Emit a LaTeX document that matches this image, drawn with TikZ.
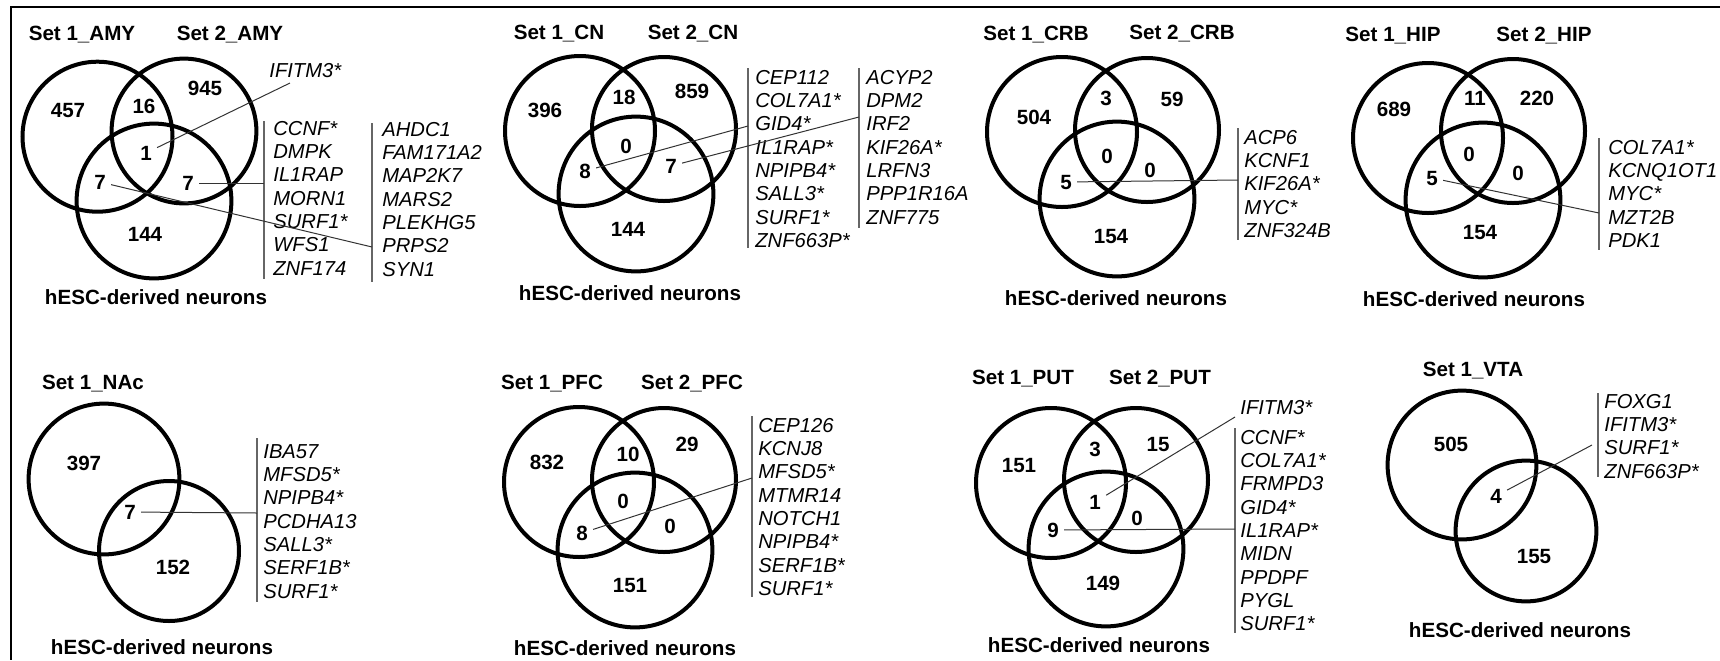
\documentclass[tikz,border=0pt]{standalone}
\usepackage{fontspec}
\setmainfont{Liberation Sans}
\newcommand\vbold{\fontsize{10.3pt}{12pt}\selectfont\bfseries}
\newcommand\vital{\fontsize{10.1pt}{12pt}\selectfont\itshape}
\tikzset{
  ring/.style={line width=2pt},
  num/.style={font=\vbold, inner sep=2.5pt, text height=7.2pt, text depth=0pt},
  lab/.style={font=\vbold, inner sep=0pt, text height=7.2pt, text depth=0pt},
  gene/.style={font=\vital, anchor=west, inner sep=0pt, text height=7.2pt, text depth=0pt},
  bar/.style={draw=black!60, line width=0.7pt},
  conn/.style={draw=black!80, line width=0.5pt},
  framel/.style={line width=1.1pt}
}
\begin{document}
\begin{tikzpicture}[x=0.5pt,y=-0.5pt]
\useasboundingbox (0,0) rectangle (1720,660);
\draw[framel] (1720,7) -- (11,7) -- (11,660);

% ===== AMY =====
\draw[ring] (97.5,136.7) circle[radius=37.5pt];
\draw[ring] (184,131) circle[radius=36.2pt];
\draw[ring] (154,201) circle[radius=38.7pt];
\node[lab] (amyS1) at (82,33) {Set 1\_AMY};
\node[lab] (amyS2) at (230,33) {Set 2\_AMY};
\node[lab] (amyH) at (156,297) {hESC-derived neurons};
\node[num] (amyN1) at (68,110) {457};
\node[num] (amyN2) at (144,106) {16};
\node[num] (amyN3) at (205,88) {945};
\node[num] (amyN4) at (146,153) {1};
\node[num] (amyN5) at (100,182) {7};
\node[num] (amyN6) at (188,183) {7};
\node[num] (amyN7) at (145,234) {144};
\node[gene] (amyI) at (269,70) {IFITM3*};
\coordinate (amyIc) at (290,83);
\coordinate (amyAt) at (264,121); \coordinate (amyAb) at (264,279);
\coordinate (amyBt) at (372,123); \coordinate (amyBb) at (372,282);
\draw[bar] (amyAt) -- (amyAb);
\draw[bar] (amyBt) -- (amyBb);
\foreach \g [count=\i] in {CCNF*,DMPK,IL1RAP,MORN1,SURF1*,WFS1,ZNF174}
  \node[gene] (amyA\i) at (273,{128+(\i-1)*23.3}) {\g};
\foreach \g [count=\i] in {AHDC1,FAM171A2,MAP2K7,MARS2,PLEKHG5,PRPS2,SYN1}
  \node[gene] (amyB\i) at (382,{129+(\i-1)*23.3}) {\g};
\coordinate (amyC1) at (264,183);
\coordinate (amyC2) at (372,247);
\draw[conn] (amyN4) -- (amyIc);
\draw[conn] (amyN6) -- (amyC1);
\draw[conn] (amyN5) -- (amyC2);

% ===== CN =====
\draw[ring] (580,131) circle[radius=37.5pt];
\draw[ring] (664,129) circle[radius=36pt];
\draw[ring] (636,194) circle[radius=38.7pt];
\node[lab] (cnS1) at (559,32) {Set 1\_CN};
\node[lab] (cnS2) at (693,32) {Set 2\_CN};
\node[lab] (cnH) at (630,293) {hESC-derived neurons};
\node[num] (cnN1) at (545,110) {396};
\node[num] (cnN2) at (624,97) {18};
\node[num] (cnN3) at (692,91) {859};
\node[num] (cnN4) at (626,146) {0};
\node[num] (cnN5) at (585,171) {8};
\node[num] (cnN6) at (671,166) {7};
\node[num] (cnN7) at (628,229) {144};
\coordinate (cnAt) at (748,68); \coordinate (cnAb) at (748,248);
\coordinate (cnBt) at (859,68); \coordinate (cnBb) at (859,228);
\draw[bar] (cnAt) -- (cnAb);
\draw[bar] (cnBt) -- (cnBb);
\foreach \g [count=\i] in {CEP112,COL7A1*,GID4*,IL1RAP*,NPIPB4*,SALL3*,SURF1*,ZNF663P*}
  \node[gene] (cnA\i) at (755,{77+(\i-1)*23.3}) {\g};
\foreach \g [count=\i] in {ACYP2,DPM2,IRF2,KIF26A*,LRFN3,PPP1R16A,ZNF775}
  \node[gene] (cnB\i) at (866,{77+(\i-1)*23.3}) {\g};
\coordinate (cnC1) at (748,126);
\coordinate (cnC2) at (859,117);
\draw[conn] (cnN5) -- (cnC1);
\draw[conn] (cnN6) -- (cnC2);

% ===== CRB =====
\draw[ring] (1062,132) circle[radius=37.5pt];
\draw[ring] (1147,130) circle[radius=36pt];
\draw[ring] (1117,199) circle[radius=38.7pt];
\node[lab] (crbS1) at (1036,33) {Set 1\_CRB};
\node[lab] (crbS2) at (1182,32) {Set 2\_CRB};
\node[lab] (crbH) at (1116,298) {hESC-derived neurons};
\node[num] (crbN1) at (1034,117) {504};
\node[num] (crbN2) at (1106,98) {3};
\node[num] (crbN3) at (1172,99) {59};
\node[num] (crbN4) at (1107,156) {0};
\node[num] (crbN5) at (1150,170) {0};
\node[num] (crbN6) at (1066,182) {5};
\node[num] (crbN7) at (1111,236) {154};
\coordinate (crbAt) at (1238,128); \coordinate (crbAb) at (1238,240);
\draw[bar] (crbAt) -- (crbAb);
\foreach \g [count=\i] in {ACP6,KCNF1,KIF26A*,MYC*,ZNF324B}
  \node[gene] (crbA\i) at (1244,{137+(\i-1)*23.3}) {\g};
\coordinate (crbC1) at (1238,180);
\draw[conn] (crbN6) -- (crbC1);

% ===== HIP =====
\draw[ring] (1428,138) circle[radius=37.5pt];
\draw[ring] (1513,131) circle[radius=36pt];
\draw[ring] (1483,200) circle[radius=38.7pt];
\node[lab] (hipS1) at (1393,34) {Set 1\_HIP};
\node[lab] (hipS2) at (1544,34) {Set 2\_HIP};
\node[lab] (hipH) at (1474,299) {hESC-derived neurons};
\node[num] (hipN1) at (1394,109) {689};
\node[num] (hipN2) at (1475,98) {11};
\node[num] (hipN3) at (1537,98) {220};
\node[num] (hipN4) at (1469,154) {0};
\node[num] (hipN5) at (1518,173) {0};
\node[num] (hipN6) at (1432,178) {5};
\node[num] (hipN7) at (1480,232) {154};
\coordinate (hipAt) at (1599,138); \coordinate (hipAb) at (1599,250);
\draw[bar] (hipAt) -- (hipAb);
\foreach \g [count=\i] in {COL7A1*,KCNQ1OT1,MYC*,MZT2B,PDK1}
  \node[gene] (hipA\i) at (1608,{147+(\i-1)*23.3}) {\g};
\coordinate (hipC1) at (1599,213);
\draw[conn] (hipN6) -- (hipC1);

% ===== NAc =====
\draw[ring] (104,479) circle[radius=37.7pt];
\draw[ring] (169,551) circle[radius=35pt];
\node[lab] (nacS1) at (93,382) {Set 1\_NAc};
\node[lab] (nacH) at (162,647) {hESC-derived neurons};
\node[num] (nacN1) at (84,463) {397};
\node[num] (nacN2) at (130,512) {7};
\node[num] (nacN3) at (173,567) {152};
\coordinate (nacAt) at (257,438); \coordinate (nacAb) at (257,602);
\draw[bar] (nacAt) -- (nacAb);
\foreach \g [count=\i] in {IBA57,MFSD5*,NPIPB4*,PCDHA13,SALL3*,SERF1B*,SURF1*}
  \node[gene] (nacA\i) at (263,{451+(\i-1)*23.3}) {\g};
\coordinate (nacC1) at (257,513);
\draw[conn] (nacN2) -- (nacC1);

% ===== PFC =====
\draw[ring] (579,482) circle[radius=37.5pt];
\draw[ring] (664,480) circle[radius=36pt];
\draw[ring] (635,550) circle[radius=38.7pt];
\node[lab] (pfcS1) at (552,382) {Set 1\_PFC};
\node[lab] (pfcS2) at (692,382) {Set 2\_PFC};
\node[lab] (pfcH) at (625,648) {hESC-derived neurons};
\node[num] (pfcN1) at (547,462) {832};
\node[num] (pfcN2) at (628,454) {10};
\node[num] (pfcN3) at (687,444) {29};
\node[num] (pfcN4) at (623,501) {0};
\node[num] (pfcN5) at (670,526) {0};
\node[num] (pfcN6) at (582,533) {8};
\node[num] (pfcN7) at (630,585) {151};
\coordinate (pfcAt) at (752,416); \coordinate (pfcAb) at (752,597);
\draw[bar] (pfcAt) -- (pfcAb);
\foreach \g [count=\i] in {CEP126,KCNJ8,MFSD5*,MTMR14,NOTCH1,NPIPB4*,SERF1B*,SURF1*}
  \node[gene] (pfcA\i) at (758,{425+(\i-1)*23.3}) {\g};
\coordinate (pfcC1) at (752,478);
\draw[conn] (pfcN6) -- (pfcC1);

% ===== PUT =====
\draw[ring] (1051,483) circle[radius=37.5pt];
\draw[ring] (1136,480) circle[radius=36pt];
\draw[ring] (1106,549) circle[radius=38.7pt];
\node[lab] (putS1) at (1023,377) {Set 1\_PUT};
\node[lab] (putS2) at (1160,377) {Set 2\_PUT};
\node[lab] (putH) at (1099,645) {hESC-derived neurons};
\node[num] (putN1) at (1019,465) {151};
\node[num] (putN2) at (1095,449) {3};
\node[num] (putN3) at (1158,444) {15};
\node[num] (putN4) at (1095,502) {1};
\node[num] (putN5) at (1137,518) {0};
\node[num] (putN6) at (1053,530) {9};
\node[num] (putN7) at (1103,583) {149};
\node[gene] (putI) at (1240,407) {IFITM3*};
\coordinate (putIc) at (1235,417);
\coordinate (putAt) at (1235,428); \coordinate (putAb) at (1235,633);
\draw[bar] (putAt) -- (putAb);
\foreach \g [count=\i] in {CCNF*,COL7A1*,FRMPD3,GID4*,IL1RAP*,MIDN,PPDPF,PYGL,SURF1*}
  \node[gene] (putA\i) at (1240,{437+(\i-1)*23.3}) {\g};
\coordinate (putC1) at (1235,529);
\draw[conn] (putN4) -- (putIc);
\draw[conn] (putN6) -- (putC1);

% ===== VTA =====
\draw[ring] (1462,465) circle[radius=37.2pt];
\draw[ring] (1526,531) circle[radius=35.2pt];
\node[lab] (vtaS1) at (1473,369) {Set 1\_VTA};
\node[lab] (vtaH) at (1520,630) {hESC-derived neurons};
\node[num] (vtaN1) at (1451,444) {505};
\node[num] (vtaN2) at (1496,496) {4};
\node[num] (vtaN3) at (1534,556) {155};
\coordinate (vtaAt) at (1598,393); \coordinate (vtaAb) at (1598,477);
\draw[bar] (vtaAt) -- (vtaAb);
\foreach \g [count=\i] in {FOXG1,IFITM3*,SURF1*,ZNF663P*}
  \node[gene] (vtaA\i) at (1604,{401+(\i-1)*23.3}) {\g};
\coordinate (vtaC1) at (1592,445);
\draw[conn] (vtaN2) -- (vtaC1);
\end{tikzpicture}
\end{document}
